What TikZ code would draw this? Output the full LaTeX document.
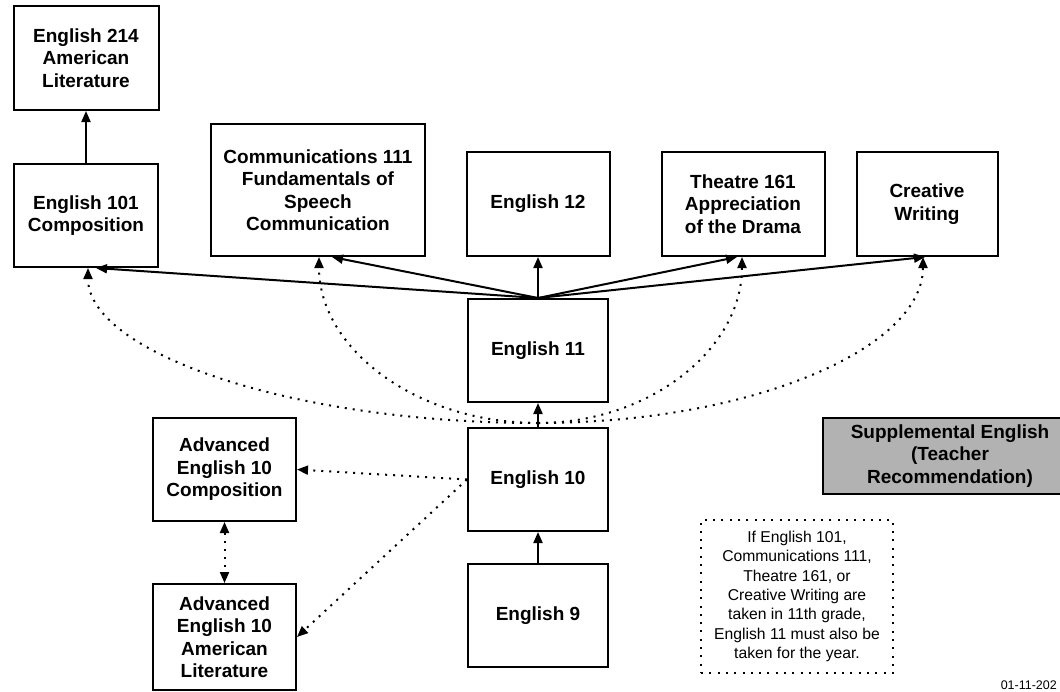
\documentclass[tikz,border=0pt]{standalone}
\usepackage{fontspec}
\setmainfont{Liberation Sans}
\usetikzlibrary{arrows.meta,positioning}
\definecolor{suppgray}{RGB}{178,178,178}
\tikzstyle{course}=[rectangle,draw=black,line width=2pt,fill=white,align=center,
inner sep=2pt,font=\bfseries\fontsize{19}{22.5}\selectfont]
\tikzstyle{suppbox}=[course,fill=suppgray]
\tikzstyle{notebox}=[rectangle,draw=black,line width=2pt,dash pattern=on 2pt off 6.3pt,
fill=white,align=center,font=\fontsize{15.7}{19.3}\selectfont]
\tikzstyle{req}=[line width=2pt,->]
\tikzstyle{opt}=[line width=2pt,->,dash pattern=on 2pt off 6pt]

\begin{document}
\begin{tikzpicture}[x=1pt,y=-1pt,>={Triangle[length=11pt,width=9pt]}]
            \useasboundingbox (0,0) rectangle (1060,691);

            % CORE SEQUENCE

            \node[course,minimum width=140pt,minimum height=103pt] at (538,350.5) (e11) {English 11};
            \node[course,minimum width=140pt,minimum height=103pt,below=24pt of e11] (e10) {English 10};
            \node[course,minimum width=140pt,minimum height=103pt,below=31pt of e10] (e9) {English 9};

            \path[req] (e9) edge (e10);
            \path[req] (e10) edge (e11);

            % AFTER ENGLISH 11

            \node[course,minimum width=143pt,minimum height=104pt,above=41pt of e11] (e12) {English 12};
            \node[course,minimum width=163pt,minimum height=104pt,right=50pt of e12] (th161) {Theatre 161\\Appreciation\\of the Drama};
            \node[course,minimum width=141pt,minimum height=104pt,right=30pt of th161] (cw) {Creative\\Writing};
            \node[course,minimum width=214pt,minimum height=132pt] at (318,190) (comm111) {Communications 111\\Fundamentals of\\Speech\\Communication};
            \node[course,minimum width=144pt,minimum height=103pt] at (86,215.5) (e101) {English 101\\Composition};
            \node[course,minimum width=145pt,minimum height=104pt,above=52pt of e101] (e214) {English 214\\American\\Literature};

            \path[req] (e101) edge (e214);
            \path[req] (e11.north) edge ([xshift=10pt]e101.south);
            \path[req] (e11.north) edge ([xshift=14pt]comm111.south);
            \path[req] (e11.north) edge (e12);
            \path[req] (e11.north) edge ([xshift=-6pt]th161.south);
            \path[req] (e11.north) edge ([xshift=-2pt]cw.south);

            % OPTIONAL PATHS FROM ENGLISH 10

            \draw[opt] ([yshift=4pt]e10.north) .. controls +(-248,0) and +(0,84) .. ([xshift=2pt]e101.south);
            \draw[opt] ([yshift=4pt]e10.north) .. controls +(-121,0) and +(0,92) .. ([xshift=1pt]comm111.south);
            \draw[opt] ([yshift=4pt]e10.north) .. controls +(112,0) and +(0,92) .. ([xshift=-1pt]th161.south);
            \draw[opt] ([yshift=4pt]e10.north) .. controls +(212,0) and +(0,92) .. ([xshift=-4pt]cw.south);

            % ADVANCED ENGLISH 10

            \node[course,minimum width=143pt,minimum height=103pt] at (224.5,469.5) (adv1) {Advanced\\English 10\\Composition};
            \node[course,minimum width=143pt,minimum height=106pt,below=61pt of adv1] (adv2) {Advanced\\English 10\\American\\Literature};

            \path[opt] (e10.west) edge (adv1.east);
            \path[opt] (e10.west) edge (adv2.east);
            \path[opt,<->] (adv1) edge (adv2);

            % SIDE NOTES

            \node[suppbox,minimum width=254pt,minimum height=76pt] at (950,456) (supp) {Supplemental English\\(Teacher\\Recommendation)};
            \node[notebox,minimum width=192pt,minimum height=153pt] at (797,596.5) (note) {If English 101,\\Communications 111,\\Theatre 161, or\\Creative Writing are\\taken in 11th grade,\\English 11 must also be\\taken for the year.};
            \node[anchor=south east,inner sep=0pt,font=\fontsize{12.5}{15}\selectfont] at (1057,690) (date) {01-11-202};

\end{tikzpicture}
\end{document}
